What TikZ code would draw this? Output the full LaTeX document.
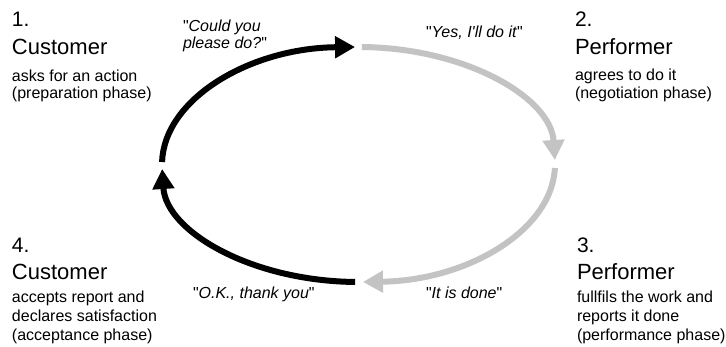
\documentclass[tikz,border=0pt]{standalone}
\usepackage{fontspec}
\newfontfamily\lsans{Liberation Sans}
\usetikzlibrary{arrows.meta}
\definecolor{lightarrow}{RGB}{195,195,195}
\begin{document}
\begin{tikzpicture}[x=1pt,y=1pt,
  txt/.style={anchor=base west,inner sep=0pt,outer sep=0pt},
  numtxt/.style={txt,font=\lsans\fontsize{21}{25}\selectfont},
  titletxt/.style={txt,font=\lsans\fontsize{22}{26}\selectfont},
  desctxt/.style={txt,font=\lsans\fontsize{16}{18}\selectfont},
  quotetxt/.style={txt,font=\lsans\fontsize{16}{18}\selectfont},
  cyc/.style={line width=6pt,-{Triangle[length=20pt,width=21pt]}},
  darkcyc/.style={cyc,draw=black},
  lightcyc/.style={cyc,draw=lightarrow}
]
\useasboundingbox (0,0) rectangle (726,347);

% ---- phase texts ----
\node[numtxt]   (n1) at (12,320)   {1.};
\node[titletxt] (t1) at (12,292)   {Customer};
\node[desctxt]  (d1a) at (12,265.5) {asks for an action};
\node[desctxt]  (d1b) at (12,248)   {(preparation phase)};

\node[numtxt]   (n2) at (575,320)   {2.};
\node[titletxt] (t2) at (575,292.5) {Performer};
\node[desctxt]  (d2a) at (575,266)  {agrees to do it};
\node[desctxt]  (d2b) at (575,248.5){(negotiation phase)};

\node[numtxt]   (n3) at (577,94.7) {3.};
\node[titletxt] (t3) at (577,67.7) {Performer};
\node[desctxt]  (d3a) at (577,44.7) {fullfils the work and};
\node[desctxt]  (d3b) at (577,25.5) {reports it done};
\node[desctxt]  (d3c) at (577,6.5)  {(performance phase)};

\node[numtxt]   (n4) at (12,94.7) {4.};
\node[titletxt] (t4) at (12,67.7) {Customer};
\node[desctxt]  (d4a) at (12,44.7) {accepts report and};
\node[desctxt]  (d4b) at (12,25.5) {declares satisfaction};
\node[desctxt]  (d4c) at (12,6.5)  {(acceptance phase)};

% ---- quotes ----
\node[quotetxt] (q1a) at (183,315.5) {"\textit{Could you}};
\node[quotetxt] (q1b) at (183,298)   {\textit{please do?}"};
\node[quotetxt] (q2)  at (426,309.3) {"\textit{Yes, I'll do it}"};
\node[quotetxt] (q3)  at (426,48.3)  {"\textit{It is done}"};
\node[quotetxt] (q4)  at (193,48)    {"\textit{O.K., thank you}"};

% ---- cycle ----
\coordinate (c) at (358.5,182.5);
\path (c) ++(178.8:196.5pt and 117.5pt) coordinate (s1);
\path (c) ++(89:196.5pt and 117.5pt)    coordinate (s2);
\path (c) ++(-1.7:196.5pt and 117.5pt)  coordinate (s3);
\path (c) ++(-91:196.5pt and 117.5pt)   coordinate (s4);

\draw[darkcyc]  (s1) arc[start angle=178.8, end angle=91,    x radius=196.5pt, y radius=117.5pt];
\draw[lightcyc] (s2) arc[start angle=89,    end angle=2.2,   x radius=196.5pt, y radius=117.5pt];
\draw[lightcyc] (s3) arc[start angle=-1.7,  end angle=-88.7, x radius=196.5pt, y radius=117.5pt];
\draw[darkcyc]  (s4) arc[start angle=-91,   end angle=-177.8,x radius=196.5pt, y radius=117.5pt];
\end{tikzpicture}
\end{document}
